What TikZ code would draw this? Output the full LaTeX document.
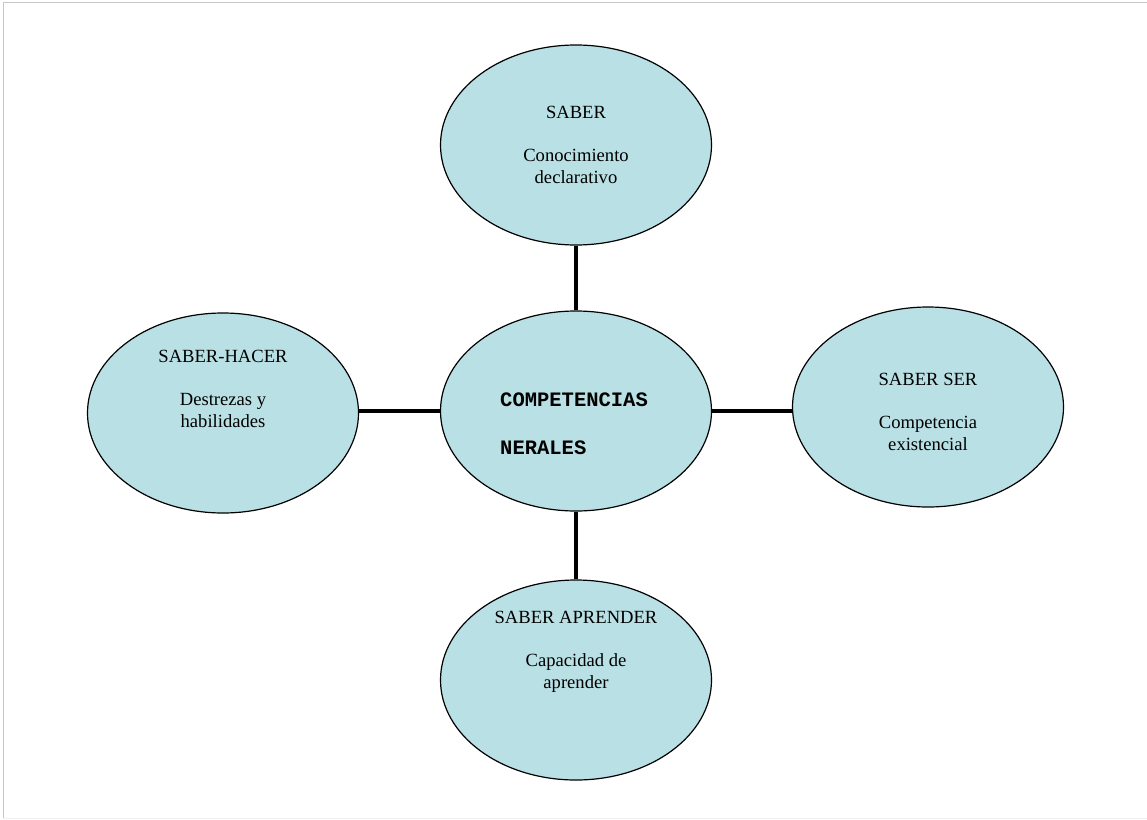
\documentclass[tikz,border=0pt]{standalone}
\usepackage{fontspec}
\setmainfont{Liberation Serif}
\setmonofont{Liberation Mono}
\usetikzlibrary{shapes.geometric}
\definecolor{celeste}{RGB}{185,224,228}
\begin{document}
\begin{tikzpicture}[x=1pt,y=-1pt,
						competencia/.style={
						ellipse,draw,fill=celeste,line width=1.2pt,
						minimum width=271pt,minimum height=200pt,inner sep=0pt},
						rotulo/.style={align=center,inner sep=0pt,
						font=\fontsize{18.6}{21.5}\selectfont},
						enlace/.style={line width=4pt}]

		\useasboundingbox (0,0) rectangle (1147,819);
		\draw[black!22,line width=1pt] (3,818) -- (3,2.5) -- (1147,2.5);
		\draw[black!6,line width=1pt] (3,818) -- (1147,818);

		\node[competencia] (saber) at (576,145) {};
		\node[competencia] (centro) at (576,411) {};
		\node[competencia] (hacer) at (223,413) {};
		\node[competencia] (ser) at (928,407) {};
		\node[competencia] (aprender) at (576,680) {};

		\draw[enlace] (saber) -- (centro);
		\draw[enlace] (centro) -- (aprender);
		\draw[enlace] (centro.west) -- (centro.west -| hacer.east);
		\draw[enlace] (centro.east) -- (centro.east -| ser.west);

		\node[rotulo] (saber-t) at (576,145) {SABER\\[21.5pt]Conocimiento\\declarativo};
		\node[rotulo] (hacer-t) at (223,389) {SABER-HACER\\[21.5pt]Destrezas y\\habilidades};
		\node[rotulo] (ser-t) at (928,412) {SABER SER\\[21.5pt]Competencia\\existencial};
		\node[rotulo] (aprender-t) at (576,652) {SABER APRENDER\\[21.5pt]Capacidad de\\aprender};
		\node[align=left,anchor=west,inner sep=0pt,
			font=\fontsize{20.5}{24}\selectfont\ttfamily\bfseries] (centro-t) at (500,424) {COMPETENCIAS\\[24pt]NERALES};

\end{tikzpicture}
\end{document}
